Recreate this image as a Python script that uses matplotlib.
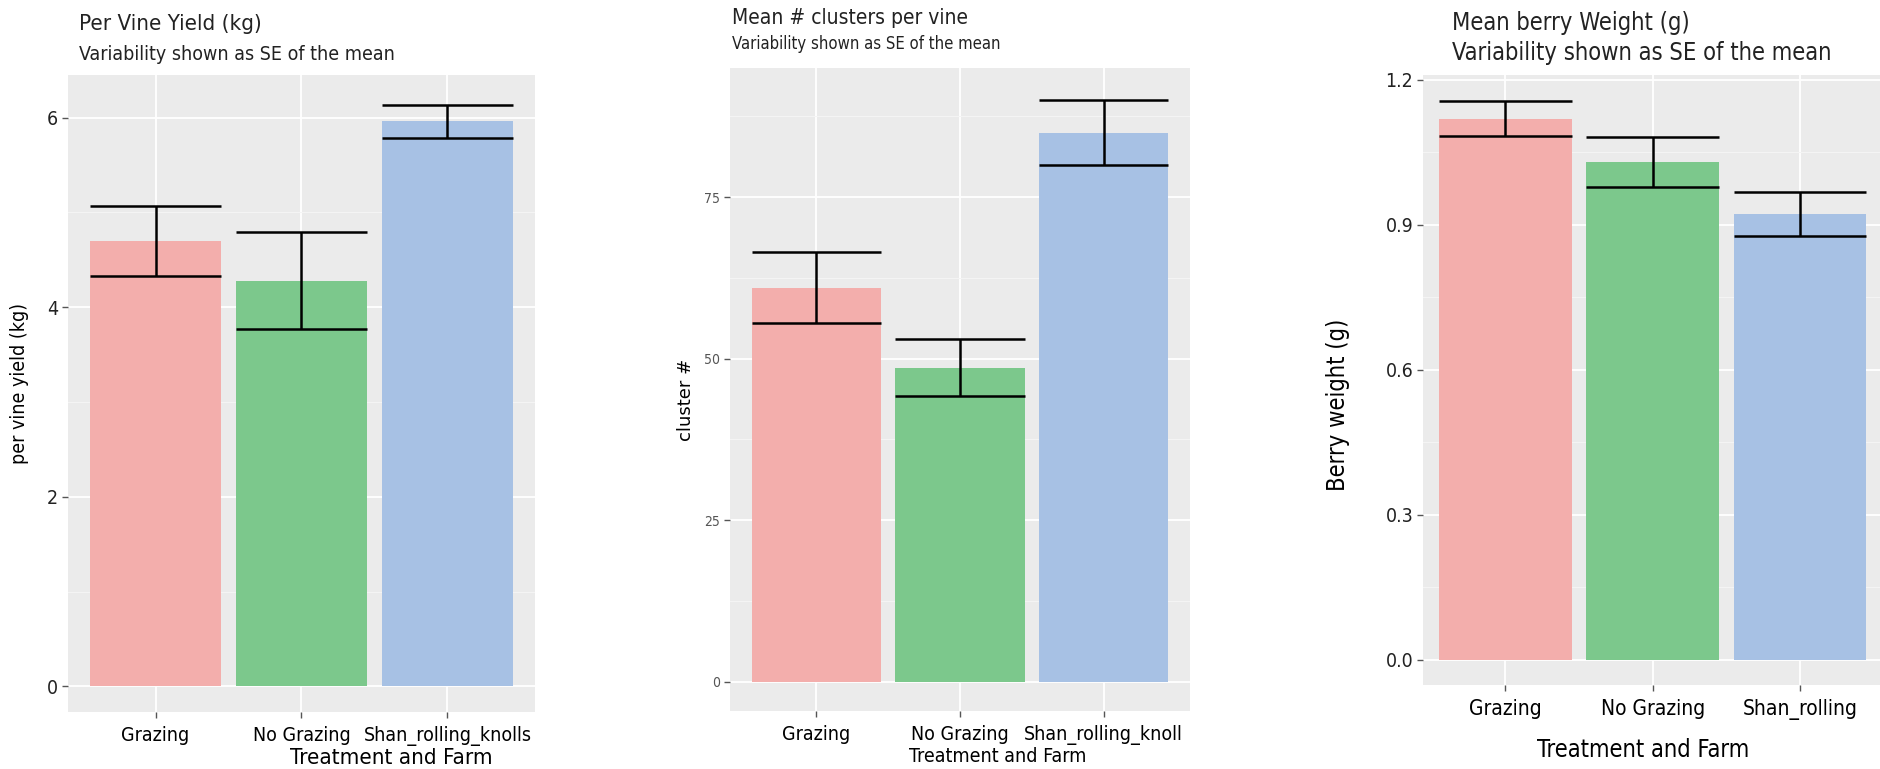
import numpy as np
import matplotlib.pyplot as plt
import matplotlib.font_manager as fm

# datos
treatments = ["Grazing", "No Grazing", "Shan_rolling_knolls"]
yield_mean = [4.70, 4.28, 5.96]
yield_se = [0.37, 0.51, 0.17]

clusters_labels = ["Grazing", "No Grazing", "Shan_rolling_knoll"]
clusters_mean = [61.0, 48.6, 85.0]
clusters_se = [5.5, 4.4, 5.0]

berry_labels = ["Grazing", "No Grazing", "Shan_rolling"]
berry_mean = [1.12, 1.03, 0.922]
berry_se = [0.036, 0.052, 0.046]

colors = ["#F3AEAC", "#7CC88C", "#A7C1E4"]

# buscar una fuente estrecha (condensed / narrow) si existe
narrow = None
for f in fm.fontManager.ttflist:
    cond = f.stretch in ("condensed", "semi-condensed", "extra-condensed") or \
        "Condensed" in f.name or "Narrow" in f.name
    if cond and f.style == "normal" and f.weight in (400, "normal", "regular"):
        narrow = f
        break
if narrow is not None:
    plt.rcParams['font.family'] = [narrow.name, 'DejaVu Sans']
    plt.rcParams['font.stretch'] = narrow.stretch
    scale = 1.0
else:
    plt.rcParams['font.family'] = ['DejaVu Sans']
    scale = 0.85

W, H = 1881, 769
fig = plt.figure(figsize=(W / 100, H / 100), dpi=100)


def fs(v):
    return v * scale


def box(x0, y0, x1, y1):
    # pixeles -> fraccion de figura
    return [x0 / W, 1 - y1 / H, (x1 - x0) / W, (y1 - y0) / H]


def panel(rect, labels, mean, se, ylim, xlim, yticks, ytl, tick_size, tick_color, minor):
    ax = fig.add_axes(rect)
    ax.set_facecolor("#EBEBEB")
    x = np.arange(1, len(labels) + 1)
    ax.bar(x, mean, width=0.9, color=colors, zorder=2)
    ax.errorbar(x, mean, yerr=se, fmt="none", ecolor="black", elinewidth=1.8,
                capsize=0, zorder=3)
    m = np.array(mean)
    s = np.array(se)
    ax.hlines(m + s, x - 0.45, x + 0.45, color="black", lw=1.8, zorder=3)
    ax.hlines(m - s, x - 0.45, x + 0.45, color="black", lw=1.8, zorder=3)
    ax.set_xlim(*xlim)
    ax.set_ylim(*ylim)
    ax.set_xticks(x)
    ax.set_xticklabels(labels, fontsize=fs(14))
    ax.set_yticks(yticks)
    ax.set_yticklabels(ytl, fontsize=fs(tick_size), color=tick_color)
    ax.set_yticks(minor, minor=True)
    ax.grid(True, which="major", color="white", lw=1.3, zorder=0)
    ax.grid(True, which="minor", axis="y", color="#F5F5F5", lw=0.7, zorder=0)
    ax.set_axisbelow(True)
    for sp in ax.spines.values():
        sp.set_visible(False)
    ax.tick_params(axis="both", which="major", length=4, width=1, color="#555555", pad=3)
    ax.tick_params(axis="y", which="minor", length=0)
    ax.tick_params(axis="x", pad=6)
    return ax


ax1 = panel(box(68, 75, 535, 712), treatments, yield_mean, yield_se,
            (-0.27, 6.45), (0.4, 3.6), [0, 2, 4, 6], ["0", "2", "4", "6"],
            14, "#222222", [1, 3, 5])
ax2 = panel(box(730, 68, 1190, 711), clusters_labels, clusters_mean, clusters_se,
            (-4.55, 95.0), (0.4, 3.6), [0, 25, 50, 75], ["0", "25", "50", "75"],
            10, "#555555", [12.5, 37.5, 62.5, 87.5])
ax3 = panel(box(1423, 75, 1881, 685), berry_labels, berry_mean, berry_se,
            (-0.052, 1.21), (0.44, 3.55), [0, 0.3, 0.6, 0.9, 1.2],
            ["0.0", "0.3", "0.6", "0.9", "1.2"], 14, "#222222",
            [0.15, 0.45, 0.75, 1.05])
ax2.tick_params(axis="x", labelsize=fs(14))
ax3.tick_params(axis="x", labelsize=fs(15))

# titulos y subtitulos
fig.text(79 / W, 1 - 24 / H, "Per Vine Yield (kg)", fontsize=fs(16), va="center", color="#222222")
fig.text(79 / W, 1 - 54 / H, "Variability shown as SE of the mean", fontsize=fs(14), va="center", color="#222222")
fig.text(732 / W, 1 - 18 / H, "Mean # clusters per vine", fontsize=fs(15), va="center", color="#222222")
fig.text(732 / W, 1 - 44 / H, "Variability shown as SE of the mean", fontsize=fs(12), va="center", color="#222222")
fig.text(1452 / W, 1 - 23 / H, "Mean berry Weight (g)", fontsize=fs(17), va="center", color="#222222")
fig.text(1452 / W, 1 - 53 / H, "Variability shown as SE of the mean", fontsize=fs(17), va="center", color="#222222")

# etiquetas de ejes
fig.text(20 / W, 1 - 384 / H, "per vine yield (kg)", fontsize=fs(14), rotation=90, ha="center", va="center")
fig.text(686 / W, 1 - 400 / H, "cluster #", fontsize=13, rotation=90, ha="center", va="center",
         family="DejaVu Sans", stretch="normal")
fig.text(1338 / W, 1 - 405 / H, "Berry weight (g)", fontsize=fs(17), rotation=90, ha="center", va="center")
fig.text(391 / W, 1 - 758 / H, "Treatment and Farm", fontsize=fs(16), ha="center", va="center")
fig.text(998 / W, 1 - 757 / H, "Treatment and Farm", fontsize=fs(14), ha="center", va="center")
fig.text(1643 / W, 1 - 750 / H, "Treatment and Farm", fontsize=fs(17), ha="center", va="center")

fig.savefig("out.png", dpi=100)
